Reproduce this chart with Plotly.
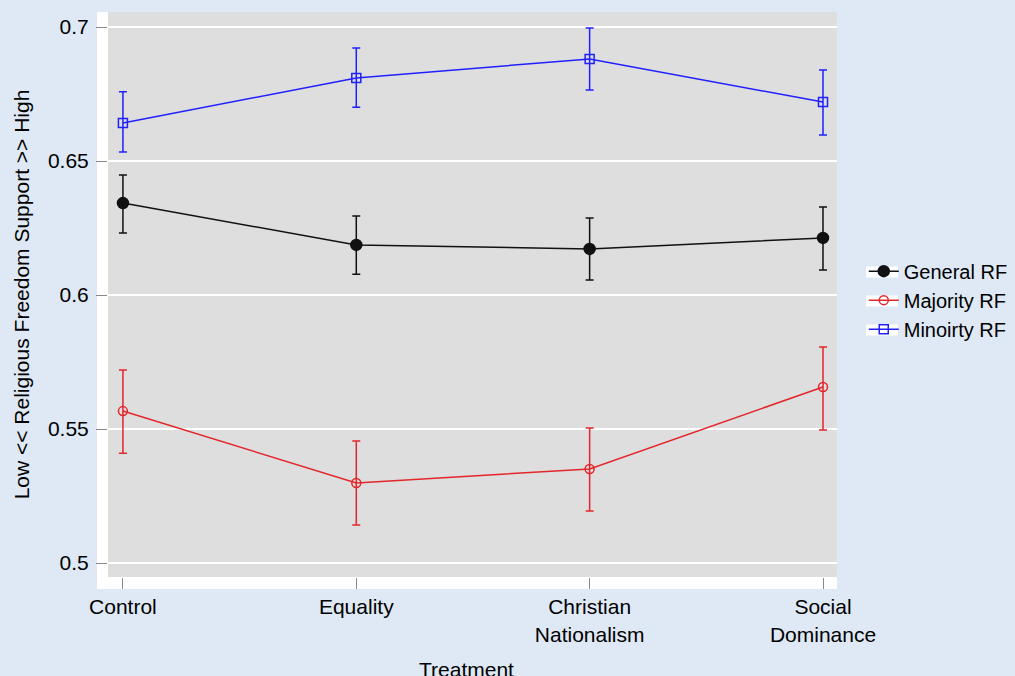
import plotly.graph_objects as go

categories = ["Control", "Equality", "Christian<br>Nationalism", "Social<br>Dominance"]
x_pos = [0, 1, 2, 3]

general_mean = [0.6343, 0.6187, 0.6172, 0.6213]
general_hi = [0.6448, 0.6295, 0.6287, 0.6328]
general_lo = [0.6231, 0.6078, 0.6056, 0.6093]

majority_mean = [0.5567, 0.5299, 0.5351, 0.5657]
majority_hi = [0.5720, 0.5455, 0.5504, 0.5806]
majority_lo = [0.5410, 0.5142, 0.5194, 0.5496]

minority_mean = [0.6642, 0.6810, 0.6881, 0.6720]
minority_hi = [0.6758, 0.6922, 0.6996, 0.6840]
minority_lo = [0.6534, 0.6701, 0.6765, 0.6597]

y_ticks = [0.5, 0.55, 0.6, 0.65, 0.7]
y_ticklabels = ["0.5", "0.55", "0.6", "0.65", "0.7"]

x_title = "Treatment"
y_title = "Low << Religious Freedom Support >> High"

FONT = "Liberation Sans, Arial, Helvetica, sans-serif"
BLACK = "#111111"
RED = "#e3262b"
BLUE = "#2020ff"


def trace(name, mean, hi, lo, color, symbol, size):
    return go.Scatter(
        x=x_pos, y=mean, name=name, mode="lines+markers",
        line=dict(color=color, width=1.5),
        marker=dict(symbol=symbol, size=size, color=color,
                    line=dict(color=color, width=1.5)),
        error_y=dict(type="data", symmetric=False,
                     array=[h - m for h, m in zip(hi, mean)],
                     arrayminus=[m - l for m, l in zip(mean, lo)],
                     color=color, thickness=1.5, width=4),
    )


fig = go.Figure()
fig.add_trace(trace("General RF", general_mean, general_hi, general_lo, BLACK, "circle", 11))
fig.add_trace(trace("Majority RF", majority_mean, majority_hi, majority_lo, RED, "circle-open", 9))
fig.add_trace(trace("Minoirty RF", minority_mean, minority_hi, minority_lo, BLUE, "square-open", 9))

shapes = [
    # white strips along left and bottom (tick area)
    dict(type="rect", xref="paper", yref="paper", x0=-0.0151, x1=0, y0=-0.0213, y1=1,
         fillcolor="white", line=dict(width=0), layer="below"),
    dict(type="rect", xref="paper", yref="paper", x0=-0.0151, x1=1, y0=-0.0213, y1=0,
         fillcolor="white", line=dict(width=0), layer="below"),
]
# white backgrounds behind legend keys
for yc in [272, 301, 330]:
    shapes.append(dict(type="rect", xref="paper", yref="paper",
                       x0=(866 - 108) / 729, x1=(898 - 108) / 729,
                       y0=(577 - (yc + 5.5)) / 565, y1=(577 - (yc - 5.5)) / 565,
                       fillcolor="white", line=dict(width=0), layer="above"))

fig.update_layout(
    width=1015, height=676,
    margin=dict(l=108, r=178, t=12, b=99, autoexpand=False),
    paper_bgcolor="#dee9f5",
    plot_bgcolor="#dedede",
    font=dict(family=FONT, size=21, color="black"),
    showlegend=True,
    legend=dict(x=1.0367, xanchor="left", y=0.49, yanchor="middle",
                bgcolor="rgba(0,0,0,0)", font=dict(size=20), tracegroupgap=0),
    shapes=shapes,
    annotations=[dict(text=x_title, xref="paper", yref="paper", x=0.492, y=-0.1398,
                      xanchor="center", yanchor="top", showarrow=False,
                      font=dict(size=21))],
)
fig.update_xaxes(
    range=[-0.064, 3.06], tickvals=x_pos, ticktext=categories,
    showgrid=False, zeroline=False, showline=False,
    ticks="outside", ticklen=11, tickwidth=1.2, tickcolor="#888888",
    automargin=False,
)
fig.update_yaxes(
    range=[0.4948, 0.7056], tickvals=y_ticks, ticktext=y_ticklabels,
    showgrid=True, gridcolor="white", gridwidth=1.5, zeroline=False, showline=False,
    ticks="outside", ticklen=11, tickwidth=1.2, tickcolor="#888888",
    ticklabelstandoff=3,
    title=dict(text=y_title, standoff=12, font=dict(size=21)),
    automargin=False,
)

fig.write_html("out.html", config={"displayModeBar": False},
               post_script="document.body.style.margin='0';")
